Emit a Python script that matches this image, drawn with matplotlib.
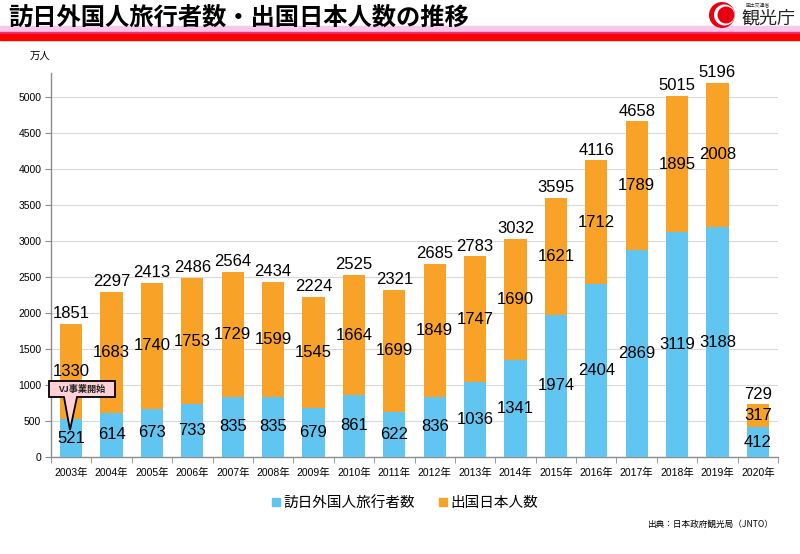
import matplotlib
matplotlib.use("Agg")
import matplotlib.pyplot as plt
import numpy as np
from matplotlib.patches import Rectangle, Ellipse, Polygon
from matplotlib.lines import Line2D

plt.rcParams['font.family'] = ['Liberation Sans', 'Noto Sans CJK JP']

years = ["2003年", "2004年", "2005年", "2006年", "2007年", "2008年", "2009年", "2010年", "2011年",
         "2012年", "2013年", "2014年", "2015年", "2016年", "2017年", "2018年", "2019年", "2020年"]
inbound = [521, 614, 673, 733, 835, 835, 679, 861, 622, 836, 1036, 1341, 1974, 2404, 2869, 3119, 3188, 412]
outbound = [1330, 1683, 1740, 1753, 1729, 1599, 1545, 1664, 1699, 1849, 1747, 1690, 1621, 1712, 1789, 1895, 2008, 317]
totals = [1851, 2297, 2413, 2486, 2564, 2434, 2224, 2525, 2321, 2685, 2783, 3032, 3595, 4116, 4658, 5015, 5196, 729]
series_names = ["訪日外国人旅行者数", "出国日本人数"]
title = "訪日外国人旅行者数・出国日本人数の推移"
unit = "万人"
source = "出典：日本政府観光局（JNTO）"
callout = "VJ事業開始"

BLUE = "#60c5f1"
ORANGE = "#f8a328"

fig = plt.figure(figsize=(8, 5.54), dpi=100)
W, H = 800, 554

def fx(px):
    return px / W

def fy(py):
    return 1 - py / H

# Header bands
fig.patches.append(Rectangle((0, fy(32)), 1, 6 / H, transform=fig.transFigure, color="#f7c8ea", zorder=0))
fig.patches.append(Rectangle((0, fy(34)), 1, 2 / H, transform=fig.transFigure, color="#e2357c", zorder=0))
fig.patches.append(Rectangle((0, fy(40)), 1, 6 / H, transform=fig.transFigure, color="#ff0000", zorder=0))
fig.text(fx(8), fy(18), title, fontsize=17.5, fontweight='bold', ha='left', va='center',
         family=['Noto Sans CJK JP'], color='black')

# Logo
def ell(cx, cy, r, color, z):
    fig.patches.append(Ellipse((fx(cx), fy(cy)), 2 * r / W, 2 * r / H, transform=fig.transFigure,
                               facecolor=color, edgecolor='none', zorder=z))

ell(722, 15, 13, '#e60012', 2)
ell(724.5, 15, 10.5, 'white', 3)
ell(726, 15, 8.5, '#e60012', 4)
fig.text(fx(746), fy(5), "国土交通省", fontsize=3.5, ha='left', va='center', family=['Noto Sans CJK JP'], color='#333333')
fig.text(fx(741), fy(19), "観光庁", fontsize=13, ha='left', va='center', family=['Noto Sans CJK JP'], color='#222222')

ax = fig.add_axes([fx(51), fy(457), fx(778) - fx(51), (457 - 73) / H])
x = np.arange(len(years))
bw = 0.55
ax.bar(x, inbound, bw, color=BLUE, zorder=3)
ax.bar(x, outbound, bw, bottom=inbound, color=ORANGE, zorder=3)

ax.set_xlim(-0.5, len(years) - 0.5)
ax.set_ylim(0, 5330)
ax.set_yticks(np.arange(0, 5001, 500))
ax.yaxis.grid(True, color='#d9d9d9', linewidth=0.8, zorder=0)
ax.set_axisbelow(True)
for s in ['top', 'right']:
    ax.spines[s].set_visible(False)
for s in ['left', 'bottom']:
    ax.spines[s].set_color('#8c8c8c')
    ax.spines[s].set_linewidth(1.0)
ax.tick_params(axis='y', length=4, color='#8c8c8c', labelsize=7.5, pad=3)
ax.set_xticks(x)
ax.set_xticklabels(years, fontsize=7.5)
ax.tick_params(axis='x', length=0, pad=8)
ax.set_xticks(np.arange(-0.5, len(years), 1), minor=True)
ax.tick_params(axis='x', which='minor', length=4, color='#8c8c8c')

num_font = dict(family=['Liberation Sans'], fontsize=12, color='black')
for i in range(len(years)):
    ax.text(x[i], inbound[i] / 2, str(inbound[i]), ha='center', va='center', zorder=5, **num_font)
    ax.text(x[i], inbound[i] + outbound[i] / 2, str(outbound[i]), ha='center', va='center', zorder=5, **num_font)
    ax.text(x[i], totals[i] + 40, str(totals[i]), ha='center', va='bottom', zorder=5, **num_font)

fig.text(fx(30), fy(56), unit, fontsize=7.5, ha='left', va='center', family=['Noto Sans CJK JP'])

# Callout
poly = Polygon([(fx(49), fy(381)), (fx(115), fy(381)), (fx(115), fy(397)), (fx(77), fy(397)),
                (fx(70), fy(430)), (fx(64), fy(397)), (fx(49), fy(397))],
               closed=True, transform=fig.transFigure, facecolor='#ffd0d6', edgecolor='black',
               linewidth=1.3, zorder=10)
fig.patches.append(poly)
fig.text(fx(82), fy(389), callout, fontsize=6.6, fontweight='bold', ha='center', va='center',
         family=['Noto Sans CJK JP'], color='#222222', zorder=11)

handles = [Line2D([], [], marker='s', linestyle='none', markersize=6, color=BLUE),
           Line2D([], [], marker='s', linestyle='none', markersize=6, color=ORANGE)]
fig.legend(handles, series_names, loc='center', bbox_to_anchor=(fx(404), fy(503)), ncol=2,
           frameon=False, handletextpad=0.1, columnspacing=1.5, handlelength=0.8,
           prop={'family': ['Noto Sans CJK JP'], 'size': 10.5})

fig.text(fx(773), fy(524), source, fontsize=6.2, ha='right', va='center', family=['Noto Sans CJK JP'])

fig.savefig("out.png", dpi=100)
